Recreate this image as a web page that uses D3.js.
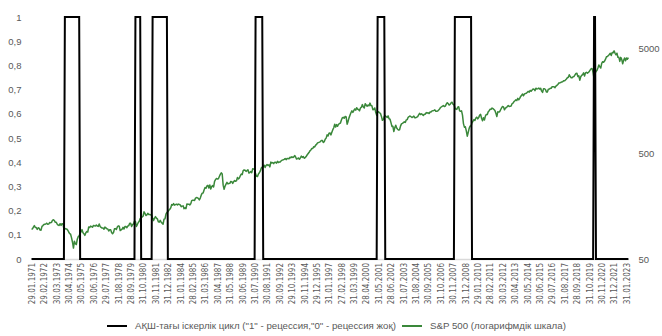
<!DOCTYPE html>
<html>
<head>
<meta charset="utf-8">
<script src="https://cdn.jsdelivr.net/npm/d3@7"></script>
<style>
  html, body { margin: 0; padding: 0; background: #ffffff; }
  svg { display: block; }
  .tick text, .legend text { fill: #595959; }
</style>
</head>
<body>
<svg id="chart" width="662" height="336"></svg>
<script>
// Monthly S&P 500 closes, Jan 1971 – Mar 2023
const sp500 = [
  95.88, 96.75, 100.31, 103.95, 99.63, 99.70, 95.58, 99.03, 98.34, 94.23, 93.99, 102.09,
  103.94, 106.57, 107.20, 107.67, 109.53, 107.14, 107.39, 111.09, 110.55, 111.58, 116.67, 118.05,
  116.03, 111.68, 111.52, 106.97, 104.95, 104.26, 108.22, 104.25, 108.43, 108.29, 95.96, 97.55,
  96.57, 96.22, 93.98, 90.31, 87.28, 86.00, 79.31, 72.15, 63.54, 73.90, 69.97, 68.56,
  76.98, 81.59, 83.36, 87.30, 91.15, 95.19, 88.75, 86.88, 83.87, 89.04, 91.24, 90.19,
  100.86, 99.71, 102.77, 101.64, 100.18, 104.28, 103.44, 102.91, 105.24, 102.90, 102.10, 107.46,
  102.03, 99.82, 98.42, 98.44, 96.12, 100.48, 98.85, 96.77, 96.53, 92.34, 94.83, 95.10,
  89.25, 87.04, 89.21, 96.83, 97.24, 95.53, 100.68, 103.29, 102.54, 93.15, 94.70, 96.11,
  99.93, 96.28, 101.59, 101.76, 99.08, 102.91, 103.81, 109.32, 109.32, 101.82, 106.16, 107.94,
  114.16, 113.66, 102.09, 106.29, 111.24, 114.24, 121.67, 122.38, 125.46, 127.47, 140.52, 135.76,
  129.55, 131.27, 136.00, 132.81, 132.59, 131.21, 130.92, 122.79, 116.18, 121.89, 126.35, 122.55,
  120.40, 113.11, 111.96, 116.44, 111.88, 109.61, 107.09, 119.51, 120.42, 133.71, 138.54, 140.64,
  145.30, 148.06, 152.96, 164.42, 162.39, 168.11, 162.56, 164.40, 166.07, 163.55, 166.40, 164.93,
  163.41, 157.06, 159.18, 160.05, 150.55, 153.18, 150.66, 166.68, 166.10, 166.09, 163.58, 167.24,
  179.63, 181.18, 180.66, 179.83, 189.55, 191.85, 190.92, 188.63, 182.08, 189.82, 202.17, 211.28,
  211.78, 226.92, 238.90, 235.52, 247.35, 250.84, 236.12, 252.93, 231.32, 243.98, 249.22, 242.17,
  274.08, 284.20, 291.70, 288.36, 290.10, 304.00, 318.66, 329.80, 321.83, 251.79, 230.30, 247.08,
  257.07, 267.82, 258.89, 261.33, 262.16, 273.50, 272.02, 261.52, 271.91, 278.97, 273.70, 277.72,
  297.47, 288.86, 294.87, 309.64, 320.52, 317.98, 346.08, 351.45, 349.15, 340.36, 345.99, 353.40,
  329.08, 331.89, 339.94, 330.80, 361.23, 358.02, 356.15, 322.56, 306.05, 304.00, 322.22, 330.22,
  343.93, 367.07, 375.22, 375.34, 389.83, 371.16, 387.81, 395.43, 387.86, 392.46, 375.22, 417.09,
  408.79, 412.70, 403.69, 414.95, 415.35, 408.14, 424.21, 414.03, 417.80, 418.68, 431.35, 435.71,
  438.78, 443.38, 451.67, 440.19, 450.19, 450.53, 448.13, 463.56, 458.93, 467.83, 461.79, 466.45,
  481.61, 467.14, 445.77, 450.91, 456.50, 444.27, 458.26, 475.49, 462.69, 472.35, 453.69, 459.27,
  470.42, 487.39, 500.71, 514.71, 533.40, 544.75, 562.06, 561.88, 584.41, 581.50, 605.37, 615.93,
  636.02, 640.43, 645.50, 654.17, 669.12, 670.63, 639.95, 651.99, 687.33, 705.27, 757.02, 740.74,
  786.16, 790.82, 757.12, 801.34, 848.28, 885.14, 954.29, 899.47, 947.28, 914.62, 955.40, 970.43,
  980.28, 1049.34, 1101.75, 1111.75, 1090.82, 1133.84, 1120.67, 957.28, 1017.01, 1098.67, 1163.63, 1229.23,
  1279.64, 1238.33, 1286.37, 1335.18, 1301.84, 1372.71, 1328.72, 1320.41, 1282.71, 1362.93, 1388.91, 1469.25,
  1394.46, 1366.42, 1498.58, 1452.43, 1420.60, 1454.60, 1430.83, 1517.68, 1436.51, 1429.40, 1314.95, 1320.28,
  1366.01, 1239.94, 1160.33, 1249.46, 1255.82, 1224.42, 1211.23, 1133.58, 1040.94, 1059.78, 1139.45, 1148.08,
  1130.20, 1106.73, 1147.39, 1076.92, 1067.14, 989.82, 911.62, 916.07, 815.28, 885.76, 936.31, 879.82,
  855.70, 841.15, 848.18, 916.92, 963.59, 974.50, 990.31, 1008.01, 995.97, 1050.71, 1058.20, 1111.92,
  1131.13, 1144.94, 1126.21, 1107.30, 1120.68, 1140.84, 1101.72, 1104.24, 1114.58, 1130.20, 1173.82, 1211.92,
  1181.27, 1203.60, 1180.59, 1156.85, 1191.50, 1191.33, 1234.18, 1220.33, 1228.81, 1207.01, 1249.48, 1248.29,
  1280.08, 1280.66, 1294.87, 1310.61, 1270.09, 1270.20, 1276.66, 1303.82, 1335.85, 1377.94, 1400.63, 1418.30,
  1438.24, 1406.82, 1420.86, 1482.37, 1530.62, 1503.35, 1455.27, 1473.99, 1526.75, 1549.38, 1481.14, 1468.36,
  1378.55, 1330.63, 1322.70, 1385.59, 1400.38, 1280.00, 1267.38, 1282.83, 1166.36, 968.75, 896.24, 903.25,
  825.88, 735.09, 797.87, 872.81, 919.14, 919.32, 987.48, 1020.62, 1057.08, 1036.19, 1095.63, 1115.10,
  1073.87, 1104.49, 1169.43, 1186.69, 1089.41, 1030.71, 1101.60, 1049.33, 1141.20, 1183.26, 1180.55, 1257.64,
  1286.12, 1327.22, 1325.83, 1363.61, 1345.20, 1320.64, 1292.28, 1218.89, 1131.42, 1253.30, 1246.96, 1257.60,
  1312.41, 1365.68, 1408.47, 1397.91, 1310.33, 1362.16, 1379.32, 1406.58, 1440.67, 1412.16, 1416.18, 1426.19,
  1498.11, 1514.68, 1569.19, 1597.57, 1630.74, 1606.28, 1685.73, 1632.97, 1681.55, 1756.54, 1805.81, 1848.36,
  1782.59, 1859.45, 1872.34, 1883.95, 1923.57, 1960.23, 1930.67, 2003.37, 1972.29, 2018.05, 2067.56, 2058.90,
  1994.99, 2104.50, 2067.89, 2085.51, 2107.39, 2063.11, 2103.84, 1972.18, 1920.03, 2079.36, 2080.41, 2043.94,
  1940.24, 1932.23, 2059.74, 2065.30, 2096.95, 2098.86, 2173.60, 2170.95, 2168.27, 2126.15, 2198.81, 2238.83,
  2278.87, 2363.64, 2362.72, 2384.20, 2411.80, 2423.41, 2470.30, 2471.65, 2519.36, 2575.26, 2647.58, 2673.61,
  2823.81, 2713.83, 2640.87, 2648.05, 2705.27, 2718.37, 2816.29, 2901.52, 2913.98, 2711.74, 2760.17, 2506.85,
  2704.10, 2784.49, 2834.40, 2945.83, 2752.06, 2941.76, 2980.38, 2926.46, 2976.74, 3037.56, 3140.98, 3230.78,
  3225.52, 2954.22, 2584.59, 2912.43, 3044.31, 3100.29, 3271.12, 3500.31, 3363.00, 3269.96, 3621.63, 3756.07,
  3714.24, 3811.15, 3972.89, 4181.17, 4204.11, 4297.50, 4395.26, 4522.68, 4307.54, 4605.38, 4567.00, 4766.18,
  4515.55, 4373.94, 4530.41, 4131.93, 4132.15, 3785.38, 4130.29, 3955.00, 3585.62, 3871.98, 4080.11, 3839.50,
  4076.60, 3970.15, 4109.31
];

// US business cycle: months flagged as recession (first and last month, inclusive)
const recessions = [
  ["1973-12", "1975-03"],
  ["1980-02", "1980-07"],
  ["1981-08", "1982-11"],
  ["1990-08", "1991-03"],
  ["2001-04", "2001-11"],
  ["2008-01", "2009-06"],
  ["2020-03", "2020-04"]
];

// Category labels shown on the horizontal axis (every 13th month)
const tickLabels = [
  "29.01.1971", "29.02.1972", "30.03.1973", "30.04.1974", "30.05.1975", "30.06.1976", "29.07.1977",
  "31.08.1978", "28.09.1979", "31.10.1980", "30.11.1981", "31.12.1982", "31.01.1984", "28.02.1985",
  "31.03.1986", "30.04.1987", "31.05.1988", "30.06.1989", "31.07.1990", "30.08.1991", "30.09.1992",
  "29.10.1993", "30.11.1994", "29.12.1995", "31.01.1997", "27.02.1998", "31.03.1999", "28.04.2000",
  "31.05.2001", "28.06.2002", "31.07.2003", "31.08.2004", "30.09.2005", "31.10.2006", "30.11.2007",
  "31.12.2008", "29.01.2010", "28.02.2011", "30.03.2012", "30.04.2013", "30.05.2014", "30.06.2015",
  "29.07.2016", "31.08.2017", "28.09.2018", "31.10.2019", "30.11.2020", "31.12.2021", "31.01.2023"
];
const tickStep = 13;

const leftTicks = [0, 0.1, 0.2, 0.3, 0.4, 0.5, 0.6, 0.7, 0.8, 0.9, 1];
const rightTicks = [50, 500, 5000];

const legendLabels = [
  "АҚШ-тағы іскерлік цикл (\"1\" - рецессия,\"0\" - рецессия жоқ)",
  "S&P 500 (логарифмдік шкала)"
];

// ---- build month keys and the 0/1 recession series ----
const firstYear = 1971;
const months = sp500.map((_, i) =>
  `${firstYear + Math.floor(i / 12)}-${String(i % 12 + 1).padStart(2, "0")}`);
const recessionFlag = months.map(m =>
  recessions.some(([a, b]) => m >= a && m <= b) ? 1 : 0);

// ---- layout ----
const svg = d3.select("#chart");
const plot = { left: 31.5, right: 628.4, top: 17, bottom: 259 };
const font = "'Liberation Sans', Arial, sans-serif";
const narrowFont = "'Liberation Sans Narrow', 'Arial Narrow', 'DejaVu Sans Condensed', sans-serif";

const x = d3.scalePoint().domain(months).range([plot.left, plot.right]);
const yL = d3.scaleLinear().domain([0, 1]).range([plot.bottom, plot.top]);
const yR = d3.scaleLog().domain([50, 10000]).range([plot.bottom, plot.top]);

// horizontal axis with rotated date labels
const xTicks = months.filter((_, i) => i % tickStep === 0);
const xAxis = svg.append("g")
  .attr("transform", `translate(0,${plot.bottom})`)
  .call(d3.axisBottom(x).tickValues(xTicks)
    .tickFormat((d, i) => tickLabels[i]).tickSize(0).tickSizeOuter(0));
xAxis.select(".domain").attr("stroke", "#d9d9d9").attr("stroke-width", 1.3);
xAxis.selectAll("text")
  .attr("transform", "rotate(-90)")
  .attr("x", -4).attr("y", 0).attr("dy", "0.35em")
  .style("text-anchor", "end")
  .style("font-family", narrowFont).style("font-size", "8px");

// left axis (recession indicator)
const fmtL = d => (d === 0 || d === 1) ? String(d) : d.toFixed(1).replace(".", ",");
const leftAxis = svg.append("g")
  .attr("transform", `translate(${plot.left - 7},0)`)
  .call(d3.axisLeft(yL).tickValues(leftTicks).tickFormat(fmtL).tickSize(0));
leftAxis.select(".domain").remove();
leftAxis.selectAll("text").style("font-family", font).style("font-size", "9.5px");

// right axis (S&P 500, log scale)
const rightAxis = svg.append("g")
  .attr("transform", `translate(${plot.right + 7},0)`)
  .call(d3.axisRight(yR).tickValues(rightTicks).tickFormat(d3.format("d")).tickSize(0));
rightAxis.select(".domain").remove();
rightAxis.selectAll("text").style("font-family", font).style("font-size", "9.5px");

// S&P 500 line
svg.append("path")
  .datum(sp500)
  .attr("fill", "none")
  .attr("stroke", "#3a883a")
  .attr("stroke-width", 1.5)
  .attr("stroke-linejoin", "round")
  .attr("d", d3.line().x((d, i) => x(months[i])).y(d => yR(d)));

// recession indicator line
svg.append("path")
  .datum(recessionFlag)
  .attr("fill", "none")
  .attr("stroke", "#000000")
  .attr("stroke-width", 2)
  .attr("d", d3.line().x((d, i) => x(months[i])).y(d => yL(d)));

// legend
const legend = svg.append("g").attr("class", "legend")
  .style("font-family", font).style("font-size", "9.7px");
const legendItems = [
  { x: 107, color: "#000000", width: 2, label: legendLabels[0] },
  { x: 402, color: "#3a883a", width: 2, label: legendLabels[1] }
];
legendItems.forEach(it => {
  legend.append("line")
    .attr("x1", it.x).attr("x2", it.x + 20)
    .attr("y1", 326).attr("y2", 326)
    .attr("stroke", it.color).attr("stroke-width", it.width);
  legend.append("text")
    .attr("x", it.x + 28).attr("y", 326).attr("dy", "0.35em")
    .text(it.label);
});
</script>
</body>
</html>
